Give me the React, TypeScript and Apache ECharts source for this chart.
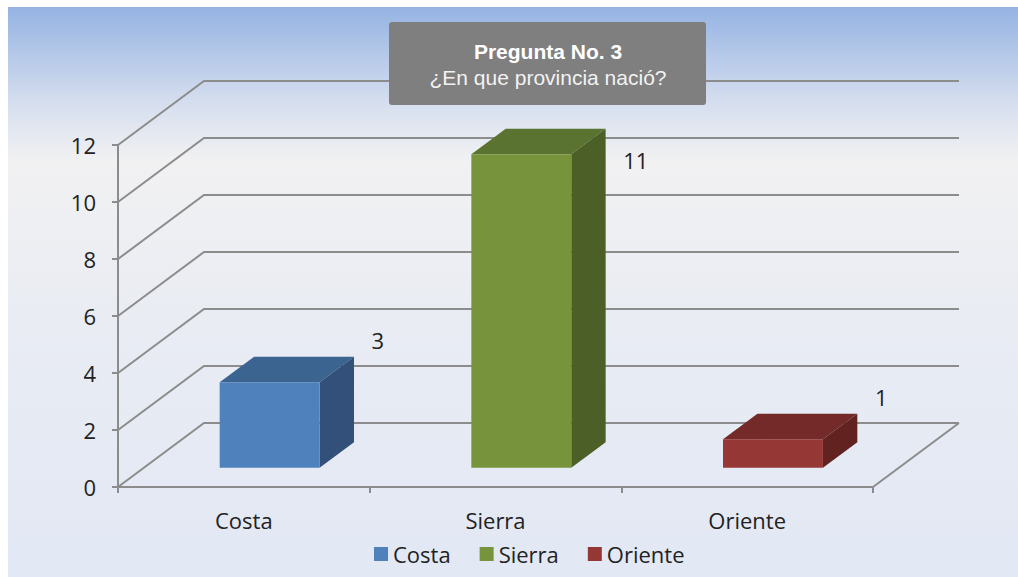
import React, { useEffect, useRef } from "react";
import * as echarts from "echarts";

const categories = ["Costa", "Sierra", "Oriente"];
const values = [3, 11, 1];
const yTicks = [0, 2, 4, 6, 8, 10, 12];
const titleLine1 = "Pregunta No. 3";
const titleLine2 = "¿En que provincia nació?";

const frontColors = ["#4f81bd", "#77933c", "#953735"];
const topColors = ["#3c6491", "#5b7330", "#732a28"];
const sideColors = ["#33507a", "#4b5f27", "#612220"];

const DX = 86;
const DY = -64;
const FONT = "'Open Sans', 'Noto Sans', sans-serif";

export default function App() {
  const ref = useRef<HTMLDivElement>(null);
  useEffect(() => {
    if (!ref.current) return;
    const chart = echarts.init(ref.current, null, { renderer: "svg" });

    const wallSeries: any = {
      type: "custom",
      name: "walls",
      silent: true,
      z: 1,
      data: yTicks.map((v) => [0, v]),
      encode: { x: 0, y: 1 },
      renderItem: (params: any, api: any) => {
        const cs = params.coordSys;
        const v = api.value(1);
        const y = api.coord([0, v])[1];
        const x = cs.x;
        const style = { stroke: "#8c8c8c", lineWidth: 2, fill: null };
        const children: any[] = [
          {
            type: "polyline",
            shape: { points: [[x, y], [x + DX, y + DY], [x + cs.width + DX, y + DY]] },
            style,
          },
        ];
        if (v === 0) {
          children.push({
            type: "line",
            shape: { x1: x + cs.width, y1: y, x2: x + cs.width + DX, y2: y + DY },
            style,
          });
        }
        return { type: "group", children };
      },
    };

    const barSeries = categories.map((name, i) => ({
      type: "custom",
      name,
      z: 2,
      itemStyle: { color: frontColors[i] },
      data: [[i, values[i]]],
      encode: { x: 0, y: 1 },
      renderItem: (params: any, api: any) => {
        const cs = params.coordSys;
        const idx = api.value(0);
        const val = api.value(1);
        const top = api.coord([idx, val]);
        const base = api.coord([idx, 0]);
        const band = api.size([1, 0])[0];
        const off = 0.3;
        const bd = 0.4;
        const w = band * 0.397;
        const x0 = top[0] - w / 2 + DX * off;
        const x1 = x0 + w;
        const yt = top[1] + DY * off;
        const yb = base[1] + DY * off;
        const ddx = DX * bd;
        const ddy = DY * bd;
        const lx = x1 + 52;
        const ly = Math.max(yt - 42, cs.y + 15);
        return {
          type: "group",
          children: [
            {
              type: "polygon",
              shape: { points: [[x0, yt], [x1, yt], [x1 + ddx, yt + ddy], [x0 + ddx, yt + ddy]] },
              style: { fill: topColors[i] },
            },
            {
              type: "polygon",
              shape: { points: [[x1, yt], [x1, yb], [x1 + ddx, yb + ddy], [x1 + ddx, yt + ddy]] },
              style: { fill: sideColors[i] },
            },
            {
              type: "rect",
              shape: { x: x0, y: yt, width: w, height: yb - yt },
              style: { fill: frontColors[i] },
            },
            {
              type: "text",
              x: lx,
              y: ly,
              style: {
                text: String(values[i]),
                fill: "#222222",
                font: `22px ${FONT}`,
                textAlign: "left",
                textVerticalAlign: "middle",
              },
            },
          ],
        };
      },
    }));

    chart.setOption({
      animation: false,
      backgroundColor: "#ffffff",
      graphic: [
        {
          type: "rect",
          z: -10,
          silent: true,
          shape: { x: 8, y: 7, width: 1010, height: 570 },
          style: {
            fill: new echarts.graphic.LinearGradient(0, 0, 0, 1, [
              { offset: 0, color: "#95b3e2" },
              { offset: 0.175, color: "#d8e0ef" },
              { offset: 0.27, color: "#f1f1f2" },
              { offset: 0.55, color: "#e9ecf3" },
              { offset: 1, color: "#e2e8f4" },
            ]),
          },
        },
        {
          type: "rect",
          z: 100,
          shape: { x: 389, y: 22, width: 317, height: 83, r: 3 },
          style: { fill: "#7f7f7f" },
        },
        {
          type: "text",
          z: 101,
          x: 548,
          y: 51,
          style: {
            text: titleLine1,
            fill: "#ffffff",
            font: "bold 21px 'Liberation Sans', Arial, sans-serif",
            textAlign: "center",
            textVerticalAlign: "middle",
          },
        },
        {
          type: "text",
          z: 101,
          x: 548,
          y: 77,
          style: {
            text: titleLine2,
            fill: "#f2f2f2",
            font: "21px 'Liberation Sans', Arial, sans-serif",
            textAlign: "center",
            textVerticalAlign: "middle",
          },
        },
      ],
      grid: { left: 118, right: 145, top: 145, bottom: 90, containLabel: false },
      legend: {
        data: categories,
        left: 369,
        top: 538,
        icon: "rect",
        itemWidth: 14,
        itemHeight: 14,
        itemGap: 29,
        textStyle: { fontFamily: FONT, fontSize: 22, color: "#222222" },
        selectedMode: false,
      },
      xAxis: {
        type: "category",
        data: categories,
        axisLine: { show: true, lineStyle: { color: "#8c8c8c", width: 2 } },
        axisTick: { show: true, length: 6, lineStyle: { color: "#8c8c8c", width: 2 } },
        axisLabel: { fontFamily: FONT, fontSize: 22, color: "#222222", margin: 22 },
        splitLine: { show: false },
      },
      yAxis: {
        type: "value",
        min: 0,
        max: yTicks[yTicks.length - 1],
        interval: 2,
        axisLine: { show: true, lineStyle: { color: "#8c8c8c", width: 2 } },
        axisTick: { show: true, length: 6, lineStyle: { color: "#8c8c8c", width: 2 } },
        axisLabel: { fontFamily: FONT, fontSize: 22, color: "#222222", margin: 22 },
        splitLine: { show: false },
      },
      series: [wallSeries, ...barSeries],
    });
    return () => chart.dispose();
  }, []);
  return (
    <div
      ref={ref}
      style={{ position: "absolute", left: 0, top: 0, width: 1018, height: 577 }}
    />
  );
}
